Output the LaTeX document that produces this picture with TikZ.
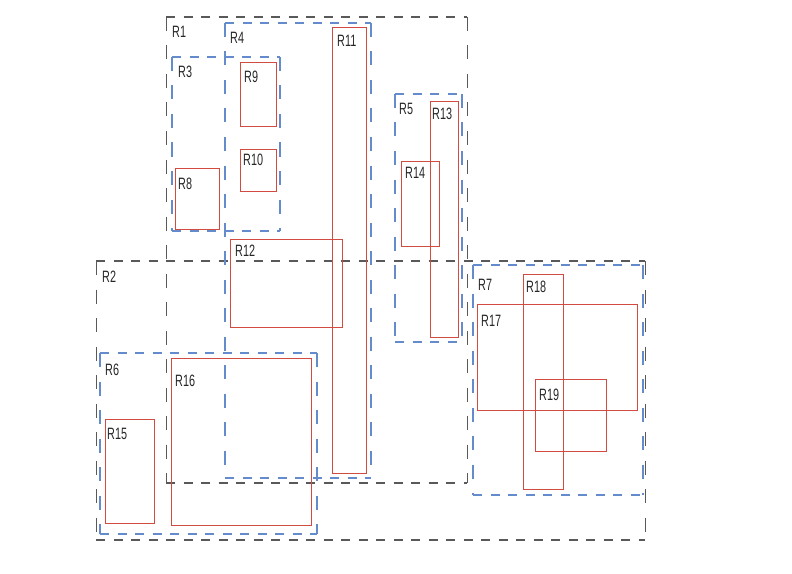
\documentclass[tikz,border=0pt]{standalone}
\usepackage{fontspec}
\setmainfont{Liberation Sans}[FakeStretch=0.66]
\newcommand\dashrect[5]{%
  \draw[#1/h] (#2,#3) -- (#4,#3);
  \draw[#1/h] (#2,#5) -- (#4,#5);
  \draw[#1/v] (#2,#3) -- (#2,#5);
  \draw[#1/v] (#4,#3) -- (#4,#5);}
\begin{document}
\begin{tikzpicture}[x=1bp,y=-1bp,
  outer/h/.style={draw=black!65,line width=1.1bp,dash pattern=on 9bp off 8.5bp},
  outer/v/.style={draw=black!65,line width=0.9bp,dash pattern=on 14bp off 14.5bp},
  mid/h/.style={draw={rgb,255:red,100;green,140;blue,205},line width=1.4bp,dash pattern=on 9bp off 8.5bp},
  mid/v/.style={draw={rgb,255:red,100;green,140;blue,205},line width=1.1bp,dash pattern=on 14bp off 14.5bp},
  leaf/.style={draw={rgb,255:red,210;green,75;blue,65},line width=0.9bp},
  lbl/.style={anchor=base west,inner sep=0pt,font=\fontsize{16.5}{16.5}\selectfont,text=black!85}]
\useasboundingbox (0,0) rectangle (792,574);
% outer (gray dashed)
\dashrect{outer}{166}{17}{467}{483}
\node[lbl] (l1) at (172,38) {R1};
\dashrect{outer}{96}{261}{645}{540}
\node[lbl] (l2) at (102,282) {R2};
% middle (blue dashed)
\dashrect{mid}{172}{57}{280}{231}
\node[lbl] (l3) at (178,78) {R3};
\dashrect{mid}{225}{23}{371}{478}
\node[lbl] (l4) at (230,44) {R4};
\dashrect{mid}{395}{94}{462}{342}
\node[lbl] (l5) at (399,115) {R5};
\dashrect{mid}{100}{353}{317}{534}
\node[lbl] (l6) at (105,375) {R6};
\dashrect{mid}{473}{265}{643}{495}
\node[lbl] (l7) at (478,290) {R7};
% leaves (red)
\draw[leaf] (175,168) rectangle (219,229);
\node[lbl] (l8) at (178,190) {R8};
\draw[leaf] (240,62) rectangle (276,126);
\node[lbl] (l9) at (244,83) {R9};
\draw[leaf] (240,149) rectangle (276,191);
\node[lbl] (l10) at (243,166) {R10};
\draw[leaf] (332,27) rectangle (366,473);
\node[lbl] (l11) at (337,47) {R11};
\draw[leaf] (230,239) rectangle (342,327);
\node[lbl] (l12) at (235,256) {R12};
\draw[leaf] (430,101) rectangle (458,337);
\node[lbl] (l13) at (432,120) {R13};
\draw[leaf] (401,161) rectangle (439,246);
\node[lbl] (l14) at (405,179) {R14};
\draw[leaf] (105,419) rectangle (154,523);
\node[lbl] (l15) at (107,439) {R15};
\draw[leaf] (171,358) rectangle (311,525);
\node[lbl] (l16) at (175,386) {R16};
\draw[leaf] (477,304) rectangle (637,410);
\node[lbl] (l17) at (481,326) {R17};
\draw[leaf] (523,274) rectangle (563,489);
\node[lbl] (l18) at (526,292) {R18};
\draw[leaf] (535,379) rectangle (606,451);
\node[lbl] (l19) at (539,400) {R19};
\end{tikzpicture}
\end{document}
